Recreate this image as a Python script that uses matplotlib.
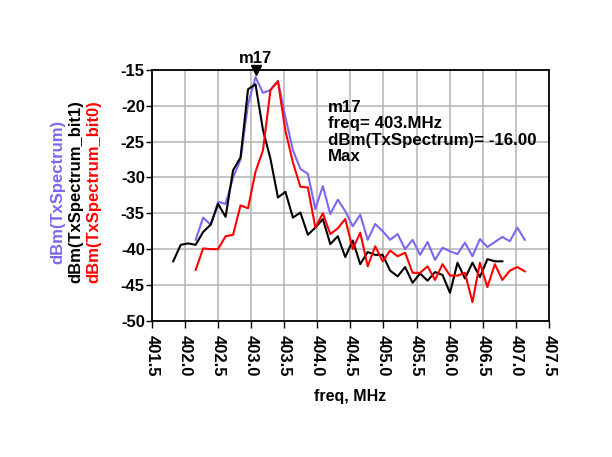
import matplotlib
matplotlib.use("Agg")
import matplotlib.pyplot as plt
from matplotlib.transforms import offset_copy
import numpy as np

plt.rcParams['font.family'] = ['Liberation Sans', 'DejaVu Sans']
plt.rcParams['font.weight'] = 'bold'

# frequency grid of the measured spectrum (MHz)
freq = [401.824, 401.937, 402.050, 402.163, 402.276, 402.389, 402.502, 402.615,
        402.728, 402.841, 402.954, 403.067, 403.180, 403.293, 403.406, 403.519,
        403.632, 403.745, 403.858, 403.971, 404.084, 404.197, 404.310, 404.423,
        404.536, 404.649, 404.762, 404.875, 404.988, 405.101, 405.214, 405.327,
        405.440, 405.553, 405.666, 405.779, 405.892, 406.005, 406.118, 406.231,
        406.344, 406.457, 406.570, 406.683, 406.796, 406.909, 407.022, 407.135]

freq_tx = freq[3:]
freq_bit1 = freq[:45]

tx_spectrum = [-38.7, -35.6, -36.6, -33.4, -33.7, -30.0, -27.5, -19.8, -16.0, -18.2,
               -17.8, -16.5, -21.6, -26.2, -28.8, -29.5, -34.4, -31.2, -35.1, -33.1,
               -34.7, -36.8, -35.2, -38.7, -36.5, -37.5, -38.7, -37.9, -40.0, -38.7,
               -40.8, -39.0, -41.5, -39.8, -40.3, -40.7, -39.1, -41.0, -38.6, -39.7,
               -39.0, -38.3, -38.9, -37.0, -38.7]

tx_bit1 = [-41.7, -39.4, -39.2, -39.4, -37.6, -36.6, -33.7, -35.5, -29.0, -27.2,
           -17.7, -17.0, -23.4, -27.4, -32.8, -32.0, -35.6, -34.9, -38.0, -37.0,
           -35.8, -39.3, -38.2, -41.1, -38.8, -42.1, -40.4, -40.8, -40.8, -43.0,
           -43.8, -42.5, -44.7, -43.4, -44.4, -43.2, -43.6, -46.1, -41.9, -44.1,
           -41.9, -43.9, -41.4, -41.7, -41.7]

tx_bit0 = [-42.9, -39.9, -40.0, -40.0, -38.2, -38.0, -33.9, -34.3, -29.2, -26.2,
           -17.8, -16.6, -23.5, -27.9, -31.3, -31.4, -37.0, -35.0, -37.9, -37.1,
           -35.8, -40.0, -37.7, -42.4, -39.6, -41.7, -40.2, -41.0, -40.5, -43.3,
           -43.3, -42.4, -44.3, -42.1, -43.7, -43.7, -43.3, -47.4, -41.9, -45.3,
           -42.1, -44.3, -43.0, -42.5, -43.1]

xticks = [401.5, 402.0, 402.5, 403.0, 403.5, 404.0, 404.5, 405.0, 405.5, 406.0, 406.5, 407.0, 407.5]
yticks = [-15, -20, -25, -30, -35, -40, -45, -50]

c_tx = '#7B68EE'
c_bit1 = 'black'
c_bit0 = '#FF0000'

fig = plt.figure(figsize=(6.12, 4.57), dpi=100)
ax = fig.add_axes([0.248, 0.298, 0.649, 0.549])

ax.plot(freq_tx, tx_spectrum, color=c_tx, lw=1.5, zorder=3)
ax.plot(freq_bit1, tx_bit1, color=c_bit1, lw=1.5, zorder=3)
ax.plot(freq_tx, tx_bit0, color=c_bit0, lw=1.5, zorder=3)

ax.set_xlim(401.5, 407.5)
ax.set_ylim(-50, -15)
ax.set_xticks(xticks)
ax.set_xticklabels(['%.1f' % t for t in xticks], rotation=270, fontsize=12, fontweight='bold')
ax.set_yticks(yticks)
ax.set_yticklabels(['%d' % t for t in yticks], fontsize=12, fontweight='bold')
ax.grid(True, color='#b4b4b4', lw=1.1)
ax.set_axisbelow(True)
for s in ax.spines.values():
    s.set_color('black')
    s.set_linewidth(1.3)
ax.tick_params(axis='x', length=5, width=1, pad=5)
ax.tick_params(axis='y', length=4, width=1, pad=1)

ax.set_xlabel('freq, MHz', fontsize=11.5, fontweight='bold', labelpad=9)

# stacked y labels, one per trace
ylab = [('dBm(TxSpectrum)', c_tx, 0.095), ('dBm(TxSpectrum_bit1)', c_bit1, 0.124),
        ('dBm(TxSpectrum_bit0)', c_bit0, 0.154)]
for txt, col, xpos in ylab:
    fig.text(xpos, 0.58, txt, rotation=90, color=col, fontsize=12, fontweight='bold',
             ha='center', va='center')

# marker m17 at max of TxSpectrum
i = int(np.argmax(tx_spectrum))
mk = offset_copy(ax.transData, fig=fig, x=0, y=5, units='points')
ax.plot(freq_tx[i], tx_spectrum[i], marker='v', color='black', ms=7.5, transform=mk,
        clip_on=False, zorder=5)
ax.annotate('m17', (freq_tx[i], tx_spectrum[i]), xytext=(0, 8), textcoords='offset points',
            ha='center', va='bottom', fontsize=12, fontweight='bold', annotation_clip=False)

ax.text(0.443, 0.88, 'm17\nfreq= 403.MHz\ndBm(TxSpectrum)= -16.00\nMax',
        transform=ax.transAxes, ha='left', va='top', fontsize=12.2, fontweight='bold',
        linespacing=1.12, zorder=4)

fig.savefig('out.png', dpi=100)
